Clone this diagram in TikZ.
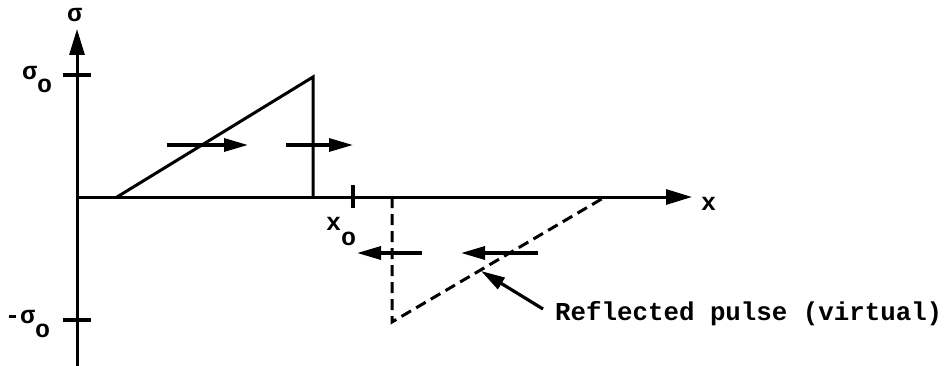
\documentclass[tikz,border=0pt]{standalone}
\usepackage{fontspec}
\setmainfont{Liberation Mono}
\usetikzlibrary{arrows.meta}
\begin{document}
\begin{tikzpicture}[x=1pt,y=-1pt,
  axis/.style={line width=3pt,-{Triangle[length=26pt,width=15pt]}},
  pulse/.style={line width=3pt},
  vpulse/.style={line width=3pt,dash pattern=on 11pt off 6pt},
  motion/.style={line width=3.2pt,-{Triangle[length=24pt,width=13pt]}},
  tick/.style={line width=3.2pt},
  lbl/.style={inner sep=0pt,anchor=base west,font=\fontsize{25}{25}\selectfont\bfseries}]
\useasboundingbox (0,0) rectangle (952,366);
% axis points
\coordinate (o) at (77,197);
\coordinate (ybot) at (77,366);
\coordinate (ytop) at (77,29);
\coordinate (xend) at (692,197);
\draw[axis] (ybot) -- (ytop);
\draw[axis] (o) -- (xend);
% ticks
\coordinate (t1a) at (63,75); \coordinate (t1b) at (91,75);
\coordinate (t2a) at (63,320); \coordinate (t2b) at (91,320);
\coordinate (t3a) at (353,185); \coordinate (t3b) at (353,208);
\draw[tick] (t1a) -- (t1b);
\draw[tick] (t2a) -- (t2b);
\draw[tick] (t3a) -- (t3b);
% incident pulse
\coordinate (p1) at (117,197);
\coordinate (p2) at (313,77);
\coordinate (p3) at (313,197);
\draw[pulse] (p1) -- (p2) -- (p3);
% reflected pulse
\coordinate (r1) at (392,197);
\coordinate (r2) at (392,322);
\coordinate (r3) at (605,197);
\draw[vpulse] (r1) -- (r2) -- (r3);
% motion arrows
\coordinate (a1s) at (167,145); \coordinate (a1e) at (248,145);
\coordinate (a2s) at (286,145); \coordinate (a2e) at (353,145);
\coordinate (b1s) at (422,253); \coordinate (b1e) at (357,253);
\coordinate (b2s) at (538,253); \coordinate (b2e) at (461,253);
\draw[motion] (a1s) -- (a1e);
\draw[motion] (a2s) -- (a2e);
\draw[motion] (b1s) -- (b1e);
\draw[motion] (b2s) -- (b2e);
% labels
\node[lbl] (lsig) at (67,22) {σ};
\node[lbl] (lsigo) at (22,80) {σ\raisebox{-13pt}{o}};
\node[lbl] (lmsigo) at (5,323) {-σ\raisebox{-14pt}{o}};
\node[lbl] (lxo) at (326,230) {x\raisebox{-15pt}{o}};
\node[lbl] (lx) at (701,210) {x};
\node[lbl,font=\fontsize{25.8}{26}\selectfont\bfseries] (lref) at (555,320) {Reflected pulse (virtual)};
% pointer
\coordinate (ptip) at (481,271);
\coordinate (ptail) at (543,309);
\draw[motion] (ptail) -- (ptip);
\end{tikzpicture}
\end{document}
